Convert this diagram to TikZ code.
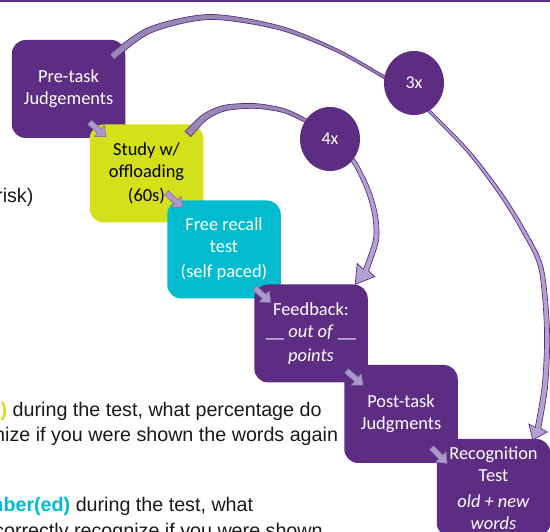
\documentclass[tikz,border=0pt]{standalone}
\usepackage{fontspec}
\setmainfont{Carlito}
\newfontfamily\arialf{Liberation Sans}
\usetikzlibrary{shapes.geometric,calc}
\definecolor{dpurple}{RGB}{92,45,130}
\definecolor{limec}{RGB}{212,224,26}
\definecolor{cyanc}{RGB}{0,188,206}
\definecolor{arrfill}{RGB}{172,153,203}
\definecolor{arredge}{RGB}{130,105,170}
\definecolor{curvefillA}{RGB}{152,136,182}
\definecolor{curvefillB}{RGB}{178,162,210}
\definecolor{textgray}{RGB}{25,25,25}
\newcommand\blockarr[2]{\filldraw[smallarrow, shift={(#1)}, rotate=#2] (0,-2.8) -- (13,-2.8) -- (13,-7.5) -- (22,0) -- (13,7.5) -- (13,2.8) -- (0,2.8) -- cycle;}
\begin{document}
\begin{tikzpicture}[x=1pt,y=-1pt,
 box/.style={rounded corners=14pt, minimum width=113.5pt, minimum height=98pt, inner sep=0pt, align=center, font=\fontsize{18.4}{22}\selectfont, text=white},
 purplebox/.style={box, fill=dpurple},
 badge/.style={ellipse, fill=dpurple, minimum width=60pt, minimum height=64pt, inner sep=0pt, text=white, font=\fontsize{18}{22}\selectfont},
 lefttext/.style={anchor=base west, inner sep=0pt, font=\arialf\fontsize{19.7}{23}\selectfont, text=textgray},
 smallarrow/.style={fill=arrfill, draw=arredge, line width=0.5pt},
 curveA/.style={fill=curvefillA, draw=dpurple, line width=0.7pt},
 curveB/.style={fill=curvefillB, draw=dpurple, line width=0.7pt},
 topline/.style={draw=dpurple, line width=1.6pt}
]
\useasboundingbox (0,0) rectangle (550,532);
\clip (0,0) rectangle (550,532);

% top rule
\coordinate (tl) at (0,0.8);
\coordinate (tr) at (550,0.8);
\draw[topline] (tl) -- (tr);

% left text
\node[lefttext] (risk) at (-4,203) {risk)};
\node[lefttext] (l1) at (0.5,417) {{\bfseries\color{limec})} during the test, what percentage do};
\node[lefttext] (l2) at (-6,442) {nize if you were shown the words again};
\node[lefttext] (l3) at (-14.2,511.5) {{\bfseries\color{cyanc}mber(ed)} during the test, what};
\node[lefttext] (l4) at (-6,537) {correctly recognize if you were shown};

% boxes
\node[purplebox] (pre) at (68.5,89) {Pre-task\\Judgements};
\node[box, fill=limec, text=black] (study) at (146.5,173.5) {Study w/\\offloading\\[2pt](60s)};
\node[box, fill=cyanc] (free) at (224,249.5) {Free recall\\test\\[3pt](self paced)};
\node[purplebox] (feed) at (311,333.5) {Feedback:\\\_\_ \textit{out of} \_\_\\[2pt]\textit{points}};
\node[purplebox] (post) at (401,414) {Post-task\\Judgments};
\node[purplebox] (recog) at (493.5,488) {Recognition\\Test\\[4pt]\textit{old + new}\\\textit{words}};

% small block arrows
\coordinate (a1) at ($(study.north west)+(0,-2)$);
\coordinate (a2) at ($(free.north west)+(-0.5,-7.5)$);
\coordinate (a3) at ($(feed.north west)+(0.5,3.5)$);
\coordinate (a4) at ($(post.north west)+(2.5,6)$);
\coordinate (a5) at ($(recog.north west)+(-5,9)$);
\blockarr{a1}{-41}
\blockarr{a2}{-43}
\blockarr{a3}{-42}
\blockarr{a4}{-41}
\blockarr{a5}{-45}

% outer curved arrow (Pre-task -> 3x -> Recognition)
\filldraw[curveA] plot[smooth] coordinates {(109.97,54.15) (148.87,27.22) (210,14.5) (280.52,26.07) (340.65,50.65) (392.65,80.87)}
 -- plot[smooth] coordinates {(391.35,83.13) (339.35,53.35) (279.48,29.93) (210,19.5) (151.13,32.78) (114.03,59.85)} -- cycle;
\filldraw[curveB] plot[smooth] coordinates {(422.86,103.16) (468.13,149.01) (501.47,191.97) (524.75,229.04) (543.14,267.49) (549.5,329.9) (547.69,385.25) (540.76,428.45)}
 -- (547.2,432.0) -- (532.8,439.9) -- (528.8,424.0)
 -- plot[smooth] coordinates {(535.24,427.55) (542.31,384.75) (544.5,330.1) (538.86,268.51) (521.25,230.96) (498.53,194.03) (465.87,150.99) (421.14,104.84)} -- cycle;

% inner curved arrow (Study -> 4x -> Feedback)
\filldraw[curveA] plot[smooth] coordinates {(185.24,131.39) (203.10,114.30) (224.40,105.26) (255.12,103.60) (285.60,109.09) (312.78,122.38)}
 -- plot[smooth] coordinates {(311.22,125.62) (284.40,112.91) (254.88,108.40) (225.60,110.74) (206.90,119.70) (190.76,136.61)} -- cycle;
\filldraw[curveB] plot[smooth] coordinates {(346.45,148.94) (357.73,164.00) (370.06,189.22) (377.37,214.62) (378.57,240.42) (368.56,270.85)}
 -- (374.8,276.6) -- (355.2,284.4) -- (357.2,263.4)
 -- plot[smooth] coordinates {(363.44,269.15) (373.43,239.58) (372.63,215.38) (365.94,190.78) (354.27,166.00) (343.55,151.06)} -- cycle;

% badges
\node[badge] (c3) at (414,83) {3x};
\node[badge] (c4) at (330,139) {4x};
\end{tikzpicture}
\end{document}
